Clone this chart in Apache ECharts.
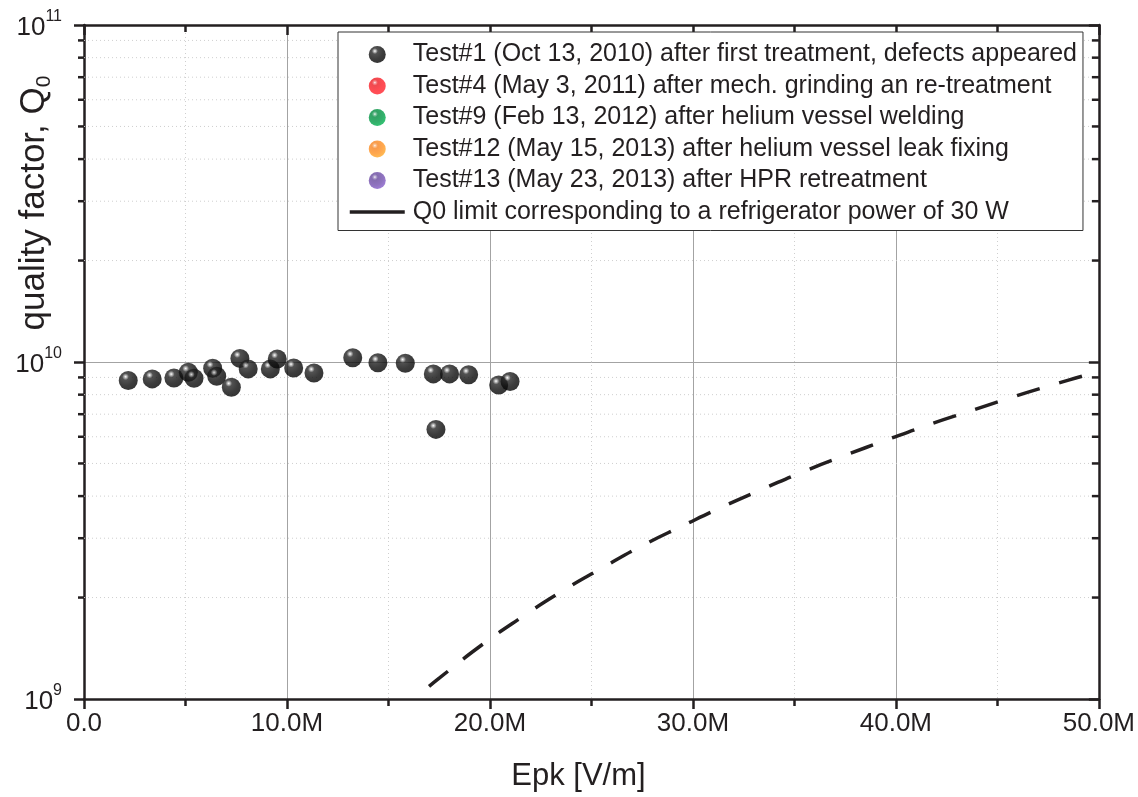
<!DOCTYPE html>
<html>
<head>
<meta charset="utf-8">
<script src="https://cdn.jsdelivr.net/npm/echarts@6/dist/echarts.min.js"></script>
<style>
html, body { margin: 0; padding: 0; background: #fff; }
#main { width: 1138px; height: 797px; }
</style>
</head>
<body>
<div id="main"></div>
<script>
// Test#1 measured points, Epk in MV/m
var test1Epk = [2.18, 3.36, 4.43, 5.14, 5.42, 6.34, 6.54, 7.26, 7.68, 8.09, 9.18, 9.52,
    10.33, 11.33, 13.24, 14.48, 15.83, 17.21, 17.34, 18.01, 18.95, 20.43, 20.99];
var test1Q = [8.81e9, 8.91e9, 8.97e9, 9.32e9, 8.95e9, 9.58e9, 9.07e9, 8.42e9, 1.025e10, 9.54e9, 9.54e9, 1.021e10,
    9.60e9, 9.28e9, 1.030e10, 9.95e9, 9.91e9, 9.22e9, 6.31e9, 9.22e9, 9.17e9, 8.55e9, 8.75e9];

// Q0 limit (30 W refrigerator)
var limitEpk = [17.0, 17.5, 19.51, 21.52, 23.53, 25.53, 27.53, 29.52, 31.53, 33.53, 35.53,
    37.53, 39.53, 41.54, 43.55, 45.53, 47.54, 49.54, 50.0];
var limitQ = [1.09e9, 1.153e9, 1.434e9, 1.742e9, 2.085e9, 2.448e9, 2.856e9, 3.271e9, 3.735e9, 4.222e9, 4.753e9,
    5.292e9, 5.868e9, 6.489e9, 7.119e9, 7.793e9, 8.496e9, 9.218e9, 9.43e9];

var testNames = [
    'Test#1 (Oct 13, 2010) after first treatment, defects appeared',
    'Test#4 (May 3, 2011) after mech. grinding an re-treatment',
    'Test#9 (Feb 13, 2012) after helium vessel welding',
    'Test#12 (May 15, 2013) after helium vessel leak fixing',
    'Test#13 (May 23, 2013) after HPR retreatment'
];
var limitName = 'Q0 limit corresponding to a refrigerator power of 30 W';
var testColors = ['#111111', '#ec1c24', '#008a3e', '#f7831f', '#67489d'];

// minor log ticks on the Q axis
var yMinor = [2e9, 3e9, 4e9, 5e9, 6e9, 7e9, 8e9, 9e9, 2e10, 3e10, 4e10, 5e10, 6e10, 7e10, 8e10, 9e10];

var axisColor = '#231f20';
var fontFam = '"Liberation Sans", Arial, sans-serif';

function sphere(c, i) {
    var dark = i === 0;
    return {
        type: 'radial', x: 0.36, y: 0.3, r: 0.8,
        colorStops: [
            { offset: 0, color: '#ffffff' },
            { offset: 0.08, color: dark ? '#b0b0b0' : echarts.color.lift(c, 0.45) },
            { offset: 0.22, color: dark ? '#262626' : c },
            { offset: 0.6, color: dark ? '#0c0c0c' : echarts.color.lift(c, -0.12) },
            { offset: 1, color: dark ? '#000000' : echarts.color.lift(c, -0.35) }
        ]
    };
}

var myChart = echarts.init(document.getElementById('main'));

var series = [];
for (var i = 0; i < testNames.length; i++) {
    var pts = [];
    if (i === 0) {
        for (var k = 0; k < test1Epk.length; k++) {
            pts.push([test1Epk[k] * 1e6, test1Q[k]]);
        }
    }
    series.push({
        name: testNames[i],
        type: 'scatter',
        symbol: 'circle',
        symbolSize: 19,
        itemStyle: { color: sphere(testColors[i], i) },
        z: 3,
        data: pts
    });
}
var limitData = [];
for (var j = 0; j < limitEpk.length; j++) {
    limitData.push([limitEpk[j] * 1e6, limitQ[j]]);
}
series.push({
    name: limitName,
    type: 'line',
    smooth: true,
    symbol: 'none',
    showSymbol: false,
    itemStyle: { color: axisColor },
    lineStyle: { color: axisColor, width: 3.5, type: [24, 20] },
    z: 3,
    data: limitData
});

var option = {
    animation: false,
    backgroundColor: '#fff',
    textStyle: { fontFamily: fontFam, color: axisColor },
    grid: { left: 84, right: 38, top: 25, bottom: 95 },
    legend: {
        left: 338,
        top: 32,
        orient: 'vertical',
        backgroundColor: '#fff',
        borderColor: '#333',
        borderWidth: 1,
        padding: [10, 6, 6, 10],
        itemWidth: 55,
        itemHeight: 17,
        itemGap: 6.5,
        textStyle: { fontSize: 25, lineHeight: 25, color: axisColor, fontFamily: fontFam, padding: [0, 0, 0, 3] },
        data: testNames.concat([{
            name: limitName,
            itemStyle: { color: 'rgba(0,0,0,0)', opacity: 0, borderWidth: 0 },
            lineStyle: { type: 'solid', width: 3.5, color: axisColor, opacity: 1 }
        }])
    },
    xAxis: [{
        type: 'value',
        position: 'bottom',
        min: 0,
        max: 50e6,
        interval: 10e6,
        name: 'Epk [V/m]',
        nameLocation: 'middle',
        nameGap: 62,
        nameTextStyle: { fontSize: 31, color: axisColor, padding: [0, 26, 0, 0] },
        axisLine: { show: true, onZero: false, lineStyle: { color: axisColor, width: 2.5 } },
        axisTick: { show: true, length: 10, lineStyle: { color: axisColor, width: 2.5 } },
        minorTick: { show: true, splitNumber: 2, length: 7, lineStyle: { color: axisColor, width: 2.5 } },
        splitLine: { show: true, lineStyle: { color: '#a3a3a3', width: 1 } },
        minorSplitLine: { show: true, lineStyle: { color: '#cfcfcf', width: 1, type: [1, 3] } },
        axisLabel: {
            fontSize: 26, margin: 12, color: axisColor,
            formatter: function (v) { return v === 0 ? '0.0' : (v / 1e6).toFixed(1) + 'M'; }
        }
    }, {
        type: 'value',
        position: 'top',
        min: 0,
        max: 50e6,
        interval: 10e6,
        axisLine: { show: true, onZero: false, lineStyle: { color: axisColor, width: 2.5 } },
        axisTick: { show: true, inside: true, length: 10, lineStyle: { color: axisColor, width: 2.5 } },
        minorTick: { show: true, splitNumber: 2, length: 7, lineStyle: { color: axisColor, width: 2.5 } },
        splitLine: { show: false },
        axisLabel: { show: false }
    }],
    yAxis: [{
        type: 'log',
        logBase: 10,
        min: 1e9,
        max: 1e11,
        axisLine: { show: true, onZero: false, lineStyle: { color: axisColor, width: 2.5 } },
        axisTick: { show: true, length: 10, lineStyle: { color: axisColor, width: 2.5 } },
        splitLine: { show: true, lineStyle: { color: '#a3a3a3', width: 1 } },
        axisLabel: {
            margin: 22,
            color: axisColor,
            formatter: function (v) {
                return '{b|10}{e|' + Math.round(Math.log10(v)) + '}';
            },
            rich: {
                b: { fontSize: 26, lineHeight: 32, color: axisColor, fontFamily: fontFam, padding: [6, 0, 0, 0] },
                e: { fontSize: 16, lineHeight: 16, verticalAlign: 'top', color: axisColor, fontFamily: fontFam }
            }
        }
    }, {
        type: 'log',
        logBase: 10,
        position: 'right',
        min: 1e9,
        max: 1e11,
        axisLine: { show: true, onZero: false, lineStyle: { color: axisColor, width: 2.5 } },
        axisTick: { show: true, inside: true, length: 10, lineStyle: { color: axisColor, width: 2.5 } },
        splitLine: { show: false },
        axisLabel: { show: false }
    }],
    series: series
};

myChart.setOption(option);

// minor ticks and dotted grid lines for the log axis, placed through the axis scale
var x0 = myChart.convertToPixel({ xAxisIndex: 0 }, 0);
var x1 = myChart.convertToPixel({ xAxisIndex: 0 }, 50e6);
var els = [];
yMinor.forEach(function (v) {
    var y = myChart.convertToPixel({ yAxisIndex: 0 }, v);
    els.push({
        type: 'line', z: 1, silent: true,
        shape: { x1: x0, y1: y, x2: x1, y2: y },
        style: { stroke: '#cfcfcf', lineWidth: 1, lineDash: [1, 3] }
    });
    els.push({
        type: 'line', z: 50, silent: true,
        shape: { x1: x0 - 6, y1: y, x2: x0, y2: y },
        style: { stroke: axisColor, lineWidth: 2.5 }
    });
    els.push({
        type: 'line', z: 50, silent: true,
        shape: { x1: x1 - 7, y1: y, x2: x1, y2: y },
        style: { stroke: axisColor, lineWidth: 2.5 }
    });
});
// y axis title with subscript
els.push({
    type: 'text', z: 50, silent: true,
    x: 34, y: 203, rotation: Math.PI / 2,
    style: {
        text: '{a|quality factor, Q}{s|0}',
        align: 'center',
        verticalAlign: 'middle',
        rich: {
            a: { fontSize: 35, lineHeight: 42, fontFamily: fontFam, fill: axisColor },
            s: { fontSize: 21, lineHeight: 21, verticalAlign: 'bottom', fontFamily: fontFam, fill: axisColor }
        }
    }
});
myChart.setOption({ graphic: els });
</script>
</body>
</html>
